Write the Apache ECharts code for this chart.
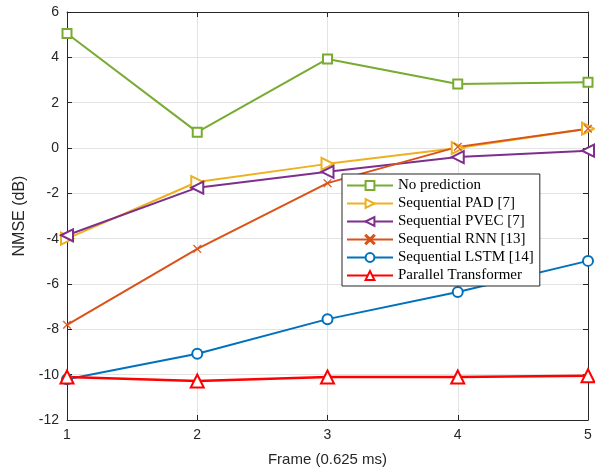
<!DOCTYPE html>
<html>
<head>
<meta charset="utf-8">
<script src="https://cdn.jsdelivr.net/npm/echarts@6/dist/echarts.min.js"></script>
<style>
html, body { margin: 0; padding: 0; background: #fff; }
#chart { width: 595px; height: 473px; }
</style>
</head>
<body>
<div id="chart"></div>
<script>
// frames on the x axis
const frames = [1, 2, 3, 4, 5];
// NMSE values (dB)
const noPrediction = [5.05, 0.7, 3.93, 2.82, 2.9];
const seqPAD = [-4.0, -1.5, -0.7, 0.0, 0.85];
const seqPVEC = [-3.85, -1.75, -1.05, -0.4, -0.12];
const seqRNN = [-7.8, -4.45, -1.55, 0.05, 0.85];
const seqLSTM = [-10.2, -9.08, -7.55, -6.35, -4.98];
const parTransformer = [-10.1, -10.28, -10.1, -10.1, -10.05];
const names = ['No prediction', 'Sequential PAD [7]', 'Sequential PVEC [7]',
    'Sequential RNN [13]', 'Sequential LSTM [14]', 'Parallel Transformer'];

const axisColor = '#262626';
const crossPath = 'path://M0.8,0L5,4.2L9.2,0L10,0.8L5.8,5L10,9.2L9.2,10L5,5.8L0.8,10L0,9.2L4.2,5L0,0.8Z';

function pts(vals) {
    return vals.map(function (v, i) { return [frames[i], v]; });
}

function mkSeries(name, vals, color, symbol, size, rotate, width, border) {
    return {
        name: name,
        type: 'line',
        data: pts(vals),
        symbol: symbol,
        symbolSize: size,
        symbolRotate: rotate || 0,
        lineStyle: { color: color, width: width || 2 },
        itemStyle: { color: color, borderColor: color, borderWidth: border == null ? 2 : border },
        emphasis: { disabled: true },
        animation: false
    };
}

const myChart = echarts.init(document.getElementById('chart'));
const option = {
    backgroundColor: '#fff',
    grid: { left: 67, right: 7, top: 12, bottom: 53 },
    xAxis: [{
        type: 'value', min: 1, max: 5, interval: 1,
        name: 'Frame (0.625 ms)', nameLocation: 'middle', nameGap: 32,
        nameTextStyle: { fontFamily: 'Liberation Sans', fontSize: 15, color: axisColor },
        axisLine: { onZero: false, lineStyle: { color: axisColor, width: 1 } },
        axisTick: { inside: true, length: 5, lineStyle: { color: axisColor } },
        axisLabel: { fontFamily: 'Liberation Sans', fontSize: 14, color: axisColor, margin: 8 },
        splitLine: { show: true, lineStyle: { color: '#e3e3e3', width: 1 } }
    }, {
        type: 'value', min: 1, max: 5, interval: 1, position: 'top',
        axisLine: { show: true, onZero: false, lineStyle: { color: axisColor, width: 1 } },
        axisTick: { inside: true, length: 5, lineStyle: { color: axisColor } },
        axisLabel: { show: false },
        splitLine: { show: false }
    }],
    yAxis: [{
        type: 'value', min: -12, max: 6, interval: 2,
        name: 'NMSE (dB)', nameLocation: 'middle', nameGap: 34,
        nameTextStyle: { fontFamily: 'Liberation Sans', fontSize: 16, color: axisColor },
        axisLine: { show: true, onZero: false, lineStyle: { color: axisColor, width: 1 } },
        axisTick: { show: true, inside: true, length: 5, lineStyle: { color: axisColor } },
        axisLabel: { fontFamily: 'Liberation Sans', fontSize: 14, color: axisColor, margin: 8 },
        splitLine: { show: true, lineStyle: { color: '#e3e3e3', width: 1 } }
    }, {
        type: 'value', min: -12, max: 6, interval: 2, position: 'right',
        axisLine: { show: true, onZero: false, lineStyle: { color: axisColor, width: 1 } },
        axisTick: { show: true, inside: true, length: 5, lineStyle: { color: axisColor } },
        axisLabel: { show: false },
        splitLine: { show: false }
    }],
    legend: {
        data: names,
        orient: 'vertical',
        left: 342, top: 174,
        itemWidth: 46, itemHeight: 11, itemGap: 3,
        padding: [4, 6, 3, 4],
        backgroundColor: '#fff',
        borderColor: axisColor, borderWidth: 1,
        textStyle: { fontFamily: 'Liberation Serif', fontSize: 15, color: '#000' },
        selectedMode: false
    },
    series: [
        mkSeries(names[0], noPrediction, '#77AC30', 'emptyRect', 9),
        mkSeries(names[1], seqPAD, '#EDB120', 'emptyTriangle', 12, -90),
        mkSeries(names[2], seqPVEC, '#7E2F8E', 'emptyTriangle', 12, 90),
        mkSeries(names[3], seqRNN, '#D95319', crossPath, 8, 0, 2, 0.5),
        mkSeries(names[4], seqLSTM, '#0072BD', 'emptyCircle', 10),
        mkSeries(names[5], parTransformer, '#FF0000', 'emptyTriangle', 13, 0, 2.5)
    ]
};
myChart.setOption(option);
window.addEventListener('resize', function () {
    myChart.resize();
});
</script>
</body>
</html>
